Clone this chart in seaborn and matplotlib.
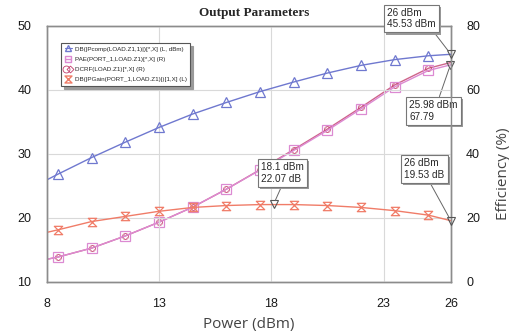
import matplotlib
matplotlib.use("Agg")
import matplotlib.pyplot as plt
import matplotlib.patheffects as pe
from matplotlib.path import Path
from matplotlib.legend_handler import HandlerTuple
from matplotlib.lines import Line2D
import seaborn as sns
import pandas as pd

# ---- data ----
power = [8, 8.5, 10, 11.5, 13, 14.5, 16, 17.5, 19, 20.5, 22, 23.5, 25, 26]
pcomp = [25.9, 26.8, 29.4, 31.8, 34.1, 36.2, 38.0, 39.7, 41.2, 42.6, 43.8, 44.7, 45.3, 45.53]
gain = [17.7, 18.1, 19.4, 20.2, 21.0, 21.6, 21.9, 22.05, 22.05, 21.9, 21.6, 21.1, 20.4, 19.53]
pae = [7.0, 7.7, 10.5, 14.3, 18.6, 23.3, 28.9, 34.9, 41.0, 47.3, 54.0, 60.9, 66.0, 67.79]
dcrf = [7.0, 7.7, 10.5, 14.3, 18.6, 23.3, 28.9, 35.0, 41.3, 47.7, 54.5, 61.5, 66.7, 68.5]

labels = ["DB(|Pcomp(LOAD.Z1,1)|)[*,X] (L, dBm)",
          "PAE(PORT_1,LOAD.Z1)[*,X] (R)",
          "DCRF(LOAD.Z1)[*,X] (R)",
          "DB(|PGain(PORT_1,LOAD.Z1)|)[1,X] (L)"]
xticks = [8, 13, 18, 23, 26]
yticks_left = [10, 20, 30, 40, 50]
yticks_right = [0, 20, 40, 60, 80]

df = pd.DataFrame({"power": power, "pcomp": pcomp, "gain": gain, "pae": pae, "dcrf": dcrf})

sns.set_theme(style="white")
plt.rcParams["font.family"] = ["Liberation Sans", "DejaVu Sans"]

fig = plt.figure(figsize=(5.1, 3.34), dpi=100)
ax = fig.add_axes([0.0916, 0.1566, 0.7925, 0.7665])
ax2 = ax.twinx()

c_blue = "#6f78cf"
c_gain = "#f07c68"
c_pae = "#dc8ad2"
c_dcrf = "#c23d6c"

hourglass = Path([(-1, 1), (1, 1), (-1, -1), (1, -1), (-1, 1)],
                 [Path.MOVETO, Path.LINETO, Path.LINETO, Path.LINETO, Path.CLOSEPOLY])
sq_line = Path([(-1, -1), (1, -1), (1, 1), (-1, 1), (-1, -1), (-1, 0), (1, 0)],
               [Path.MOVETO, Path.LINETO, Path.LINETO, Path.LINETO, Path.CLOSEPOLY,
                Path.MOVETO, Path.LINETO])

mev = slice(1, -1)

sns.lineplot(data=df, x="power", y="pcomp", ax=ax, color=c_blue, lw=1.0,
             marker="^", markersize=6.5, markerfacecolor="none", markeredgecolor=c_blue,
             markeredgewidth=0.9, markevery=mev)
sns.lineplot(data=df, x="power", y="gain", ax=ax, color=c_gain, lw=1.0,
             marker=hourglass, markersize=6, markerfacecolor="none", markeredgecolor=c_gain,
             markeredgewidth=0.9, markevery=mev)
sns.lineplot(data=df, x="power", y="dcrf", ax=ax2, color=c_dcrf, lw=1.0,
             marker="o", markersize=4.5, markerfacecolor="none", markeredgecolor=c_dcrf,
             markeredgewidth=0.5, markevery=mev, alpha=0.8)
sns.lineplot(data=df, x="power", y="dcrf", ax=ax2, color=c_dcrf, lw=0,
             marker="D", markersize=3.2, markerfacecolor="none", markeredgecolor=c_dcrf,
             markeredgewidth=0.4, markevery=mev, alpha=0.8)
sns.lineplot(data=df, x="power", y="pae", ax=ax2, color=c_pae, lw=1.0,
             marker="s", markersize=7, markerfacecolor="none", markeredgecolor=c_pae,
             markeredgewidth=0.9, markevery=mev)

ax.set_xlim(8, 26)
ax.set_ylim(10, 50)
ax2.set_ylim(0, 80)
ax.set_xticks(xticks)
ax.set_xticklabels([str(t) for t in xticks])
ax.set_yticks(yticks_left)
ax2.set_yticks(yticks_right)
ax.grid(True, color="#d9d9d9", lw=0.8)
ax2.grid(False)
ax.set_xlabel("Power (dBm)", fontsize=11, color="#444444", family=["Open Sans", "DejaVu Sans"], labelpad=5)
ax.set_ylabel("")
ax2.set_ylabel("Efficiency (%)", fontsize=11, color="#444444", family=["Open Sans", "DejaVu Sans"])
ax2.yaxis.set_label_coords(1.112, 0.42)
for a in (ax, ax2):
    a.tick_params(axis="both", length=0, labelsize=9, labelcolor="#1a1a1a")
    for s in a.spines.values():
        s.set_color("#8c8c8c")
        s.set_linewidth(1.0)
ax.tick_params(axis="x", pad=12)
ax.tick_params(axis="y", pad=11)
ax2.tick_params(axis="y", pad=11)

fig.text(0.498, 0.961, "Output Parameters", ha="center", va="center", fontsize=9.5,
         fontweight="bold", family=["Liberation Serif", "DejaVu Serif"])

# legend
h1 = Line2D([], [], color=c_blue, lw=0.8, marker="^", markerfacecolor="none", markersize=5)
h2 = Line2D([], [], color=c_pae, lw=0, marker=sq_line, markerfacecolor="none", markersize=5)
h3a = Line2D([], [], color=c_dcrf, lw=0, marker="o", markerfacecolor="none", markersize=5, markeredgewidth=0.6)
h3b = Line2D([], [], color=c_dcrf, lw=0, marker="D", markerfacecolor="none", markersize=3.5, markeredgewidth=0.6)
h4 = Line2D([], [], color=c_gain, lw=0, marker=hourglass, markerfacecolor="none", markersize=5)
leg = ax.legend([h1, h2, (h3a, h3b), h4], labels, loc="upper left",
                bbox_to_anchor=(0.036, 0.933), fontsize=4.5, frameon=True, fancybox=False,
                shadow={"color": "#9a9a9a", "alpha": 1.0}, handlelength=1.1, handletextpad=0.5,
                labelspacing=0.78, borderpad=0.55, borderaxespad=0,
                handler_map={tuple: HandlerTuple(ndivide=None, pad=0)})
leg.get_frame().set_edgecolor("#555555")
leg.get_frame().set_linewidth(0.8)

# marker annotations
box = dict(boxstyle="square,pad=0.3", fc="white", ec="#777777", lw=0.8)
ann = [
    (ax, (26, 45.53), (24.24, 51.1), "26 dBm\n45.53 dBm", (0.92, 0.0)),
    (ax2, (25.98, 67.79), (25.22, 53.4), "25.98 dBm\n67.79", (0.6, 1.0)),
    (ax, (18.1, 22.07), (18.51, 26.98), "18.1 dBm\n22.07 dB", (0.5, 0.0)),
    (ax, (26, 19.53), (24.82, 27.6), "26 dBm\n19.53 dB", (0.6, 0.0)),
]
for a, xy, xyt, txt, rp in ann:
    a.plot([xy[0]], [xy[1]], marker="v", markersize=6, markerfacecolor="none",
           markeredgecolor="#555555", markeredgewidth=0.8, clip_on=False, zorder=6)
    t = a.annotate(txt, xy=xy, xytext=xyt, textcoords="data", fontsize=7.2,
                   ha="center", va="center", multialignment="left", bbox=box,
                   annotation_clip=False, zorder=7,
                   arrowprops=dict(arrowstyle="-", color="#666666", lw=0.7, relpos=rp,
                                   shrinkA=0, shrinkB=3))
    t.get_bbox_patch().set_path_effects([pe.SimplePatchShadow(offset=(1.5, -1.5), shadow_rgbFace="#999999", alpha=1.0), pe.Normal()])

ax2.set_zorder(ax.get_zorder() - 1)
ax.patch.set_visible(False)
ax2.patch.set_visible(True)
ax2.patch.set_facecolor("white")

fig.savefig("out.png", dpi=100)
